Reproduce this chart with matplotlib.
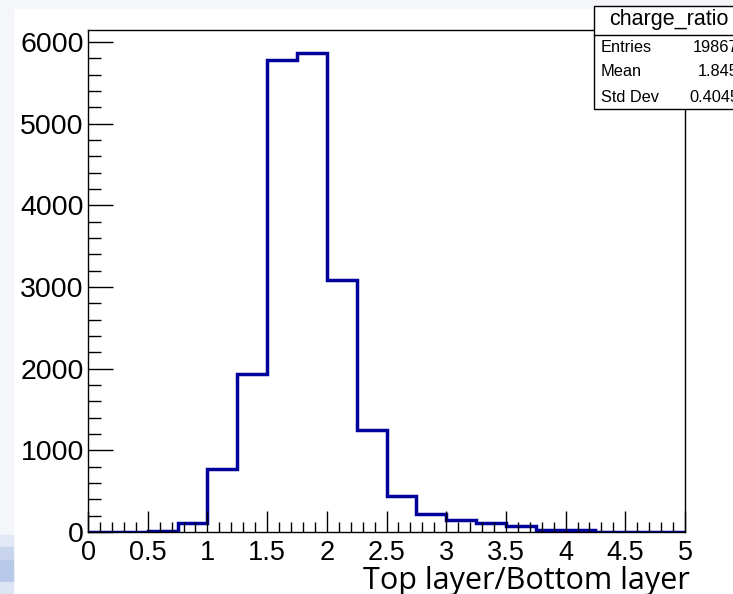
import numpy as np
import matplotlib
matplotlib.use('Agg')
import matplotlib.pyplot as plt
from matplotlib.patches import Rectangle
from matplotlib.ticker import MultipleLocator

# histogram of charge_ratio, 20 bins from 0 to 5
bin_edges = [0.0, 0.25, 0.5, 0.75, 1.0, 1.25, 1.5, 1.75, 2.0, 2.25, 2.5,
             2.75, 3.0, 3.25, 3.5, 3.75, 4.0, 4.25, 4.5, 4.75, 5.0]
counts = [0, 0, 15, 110, 770, 1940, 5780, 5860, 3080, 1250, 435,
          215, 150, 105, 72, 25, 20, 6, 4, 3]

stat_names = ["Entries", "Mean", "Std Dev"]
stat_values = ["19867", "1.845", "0.4045"]

W, H = 733, 594
fig = plt.figure(figsize=(W / 100, H / 100), dpi=100)
fig.patch.set_facecolor('white')

# screenshot background strips
fig.add_artist(Rectangle((0, 1 - 8 / H), 1, 8 / H, transform=fig.transFigure,
                         color='#f5f6f9', zorder=0))
fig.add_artist(Rectangle((0, 0), 13 / W, 1, transform=fig.transFigure,
                         color='#f5f6f9', zorder=0))
for y0, c in [(535, '#e2e8f5'), (547, '#c9d5ec'), (560, '#b9c9e8'),
              (570, '#b8c8e8'), (582, '#dde4f3')]:
    fig.add_artist(Rectangle((0, 1 - (y0 + 12) / H), 13 / W, 12 / H,
                             transform=fig.transFigure, color=c, zorder=0))

ax = fig.add_axes([88 / W, 1 - 532 / H, (685 - 88) / W, (532 - 30) / H])
ax.stairs(counts, bin_edges, color='#00009a', linewidth=2.5)

ax.set_xlim(0, 5)
ax.set_ylim(0, 6147)

ax.xaxis.set_major_locator(MultipleLocator(0.5))
ax.xaxis.set_minor_locator(MultipleLocator(0.1))
ax.yaxis.set_major_locator(MultipleLocator(1000))
ax.yaxis.set_minor_locator(MultipleLocator(200))
ax.tick_params(which='both', direction='in', top=False, right=False, width=1)
ax.tick_params(axis='x', which='major', length=15, labelsize=19.5, pad=6)
ax.tick_params(axis='x', which='minor', length=7)
ax.tick_params(axis='y', which='major', length=18, labelsize=20.5, pad=3)
ax.tick_params(axis='y', which='minor', length=9)
ax.set_xticks(np.arange(0, 5.01, 0.5))
ax.set_xticklabels(['0', '0.5', '1', '1.5', '2', '2.5', '3', '3.5', '4', '4.5', '5'])
for lab in ax.get_xticklabels() + ax.get_yticklabels():
    lab.set_fontfamily('Liberation Sans')
for sp in ax.spines.values():
    sp.set_linewidth(1)

fig.text(690 / W, 1 - 589 / H, "Top layer/Bottom layer", ha='right', va='baseline',
         fontsize=22, family='Open Sans')

# stats box
x0, x1 = 594 / W, 745 / W
ytop, ybot = 1 - 6 / H, 1 - 109 / H
fig.add_artist(Rectangle((x0, ybot), x1 - x0, ytop - ybot, transform=fig.transFigure,
                         facecolor='white', edgecolor='black', linewidth=1, zorder=5))
fig.add_artist(plt.Line2D([x0, x1], [1 - 35 / H] * 2, transform=fig.transFigure,
                          color='black', linewidth=1, zorder=6))
fig.text(669 / W, 1 - 20 / H, "charge_ratio", ha='center', va='center',
         fontsize=15.5, family='Liberation Sans', zorder=7)
for i, (n, v) in enumerate(zip(stat_names, stat_values)):
    yy = 1 - (47 + i * 25) / H
    fig.text(601 / W, yy, n, ha='left', va='center', fontsize=11.8,
             family='Liberation Sans', zorder=7)
    fig.text(739 / W, yy, v, ha='right', va='center', fontsize=11.8,
             family='Liberation Sans', zorder=7)

fig.savefig('out.png', dpi=100)
